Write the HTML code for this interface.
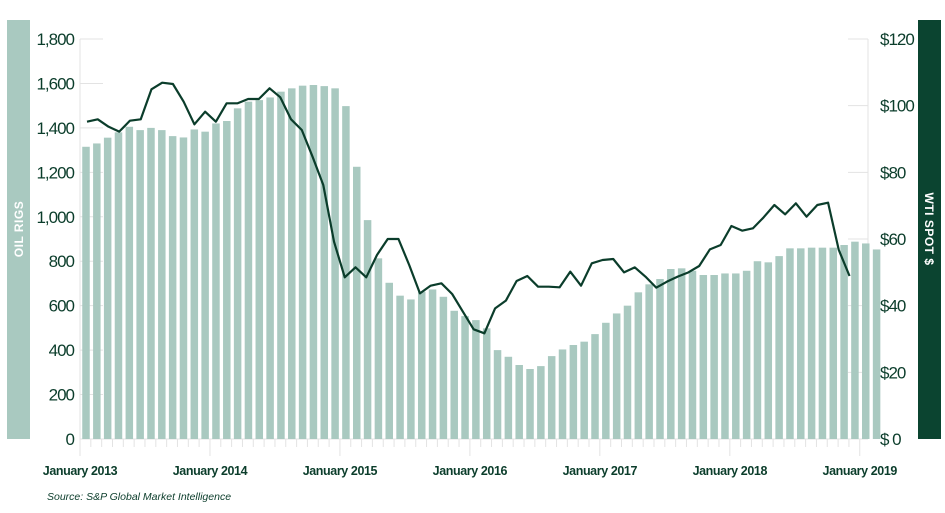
<!DOCTYPE html>
<html><head><meta charset="utf-8"><style>
html,body{margin:0;padding:0;background:#fff;}
svg{display:block;font-family:"Liberation Sans",sans-serif;}
</style></head><body>
<svg id="chart" width="945" height="513" viewBox="0 0 945 513">
<rect x="7" y="20" width="23" height="419" fill="#a9c9c0"/>
<text transform="translate(23,229) rotate(-90)" text-anchor="middle" fill="#fff" font-size="12" font-weight="bold" letter-spacing="0.5">OIL RIGS</text>
<rect x="918" y="20" width="23" height="419" fill="#0b4430"/>
<text transform="translate(925,229) rotate(90)" text-anchor="middle" fill="#fff" font-size="12" font-weight="bold" letter-spacing="0.5">WTI SPOT $</text>
<g id="axes"></g>
<g id="bars"></g>
<g id="line"></g>
<text x="47" y="500" font-size="10.5" font-style="italic" fill="#0b3d2b">Source: S&amp;P Global Market Intelligence</text>
</svg>
<script>
const rigs=[1315,1330,1356,1380,1405,1390,1400,1390,1363,1357,1393,1383,1420,1431,1488,1518,1525,1537,1563,1578,1590,1593,1588,1578,1498,1225,985,813,703,645,628,663,673,640,577,553,535,498,400,370,333,315,328,373,403,423,438,472,523,565,600,660,696,720,765,768,757,738,738,745,745,757,800,795,823,858,858,861,861,861,873,888,880,853];
const wti=[95.2,95.9,93.7,92.2,95.5,95.9,104.9,106.9,106.5,101.2,94.4,98.2,95.2,100.7,100.7,102,102,105.2,102.5,95.9,92.7,84.7,76.2,59.2,48.5,51.5,48.5,55.2,60,60,52.2,43.7,46,46.7,43.5,38.2,32.9,31.7,39.2,41.5,47.4,48.9,45.7,45.7,45.5,50.2,46,52.7,53.7,54,50,51.5,48.7,45.4,47.2,48.7,50,51.9,56.9,58.2,63.9,62.5,63.2,66.5,70.2,67.4,70.7,66.7,70.2,70.9,56.7,48.9];
const rigTicks=[0,200,400,600,800,1000,1200,1400,1600,1800];
const rigTickLabels=["0","200","400","600","800","1,000","1,200","1,400","1,600","1,800"];
const wtiTicks=[0,20,40,60,80,100,120];
const wtiTickLabels=["$ 0","$20","$40","$60","$80","$100","$120"];
const yearLabels=["January 2013","January 2014","January 2015","January 2016","January 2017","January 2018","January 2019"];
const NS="http://www.w3.org/2000/svg";
const Y0=439,Y1=39;
const yR=v=>Y0-(v/1800)*(Y0-Y1);
const yW=v=>Y0-(v/120)*(Y0-Y1);
const xM=i=>80+i*10.83;
const xBar=i=>xM(i)+6;
const xLine=i=>87+i*10.74;
function mk(tag,attrs,parent){const e=document.createElementNS(NS,tag);for(const k in attrs)e.setAttribute(k,attrs[k]);parent.appendChild(e);return e;}
const ax=document.getElementById('axes'),bg=document.getElementById('bars'),lg=document.getElementById('line');
const C="#0b3d2b",G="#e3e3e3";
let a=mk('line',{x1:80,x2:80,y1:Y1,y2:Y0,stroke:G},ax);

a=mk('line',{x1:868,x2:868,y1:Y1,y2:Y0,stroke:G},ax);

a=mk('line',{x1:80,x2:868,y1:Y0,y2:Y0,stroke:G},ax);

rigTicks.forEach((v,k)=>{
  const g=mk('line',{x1:80,x2:103,y1:yR(v),y2:yR(v),stroke:G},ax);
  
  const t=mk('text',{x:74,y:yR(v)+6,'text-anchor':'end','font-size':17,fill:C,'letter-spacing':'-1'},ax);
  t.textContent=rigTickLabels[k];
  
});
wtiTicks.forEach((v,k)=>{
  const g=mk('line',{x1:848,x2:868,y1:yW(v),y2:yW(v),stroke:G},ax);
  
  const t=mk('text',{x:880,y:yW(v)+6,'text-anchor':'start','font-size':17,fill:C,'letter-spacing':'-1'},ax);
  t.textContent=wtiTickLabels[k];
  
});
for(let i=0;i<=72;i++){
  const jan=i%12===0;
  const m=mk('line',{x1:xM(i),x2:xM(i),y1:Y0,y2:jan?Y0+17:Y0+8,stroke:G},ax);
  
  if(jan){
    const t=mk('text',{x:xM(i),y:475,'text-anchor':'middle','font-size':12.5,'font-weight':'bold',fill:C,'letter-spacing':'-0.4'},ax);
    t.textContent=yearLabels[i/12];
    
  }
}
rigs.forEach((v,i)=>{
  const r=mk('rect',{x:xBar(i)-3.75,y:yR(v),width:7.5,height:Y0-yR(v),fill:"#a9c9c0"},bg);
  
});
const p=mk('polyline',{points:wti.map((v,i)=>xLine(i)+','+yW(v)).join(' '),fill:'none',stroke:'#0b3d2b','stroke-width':2.2,'stroke-linejoin':'round'},lg);

</script>
</body></html>
